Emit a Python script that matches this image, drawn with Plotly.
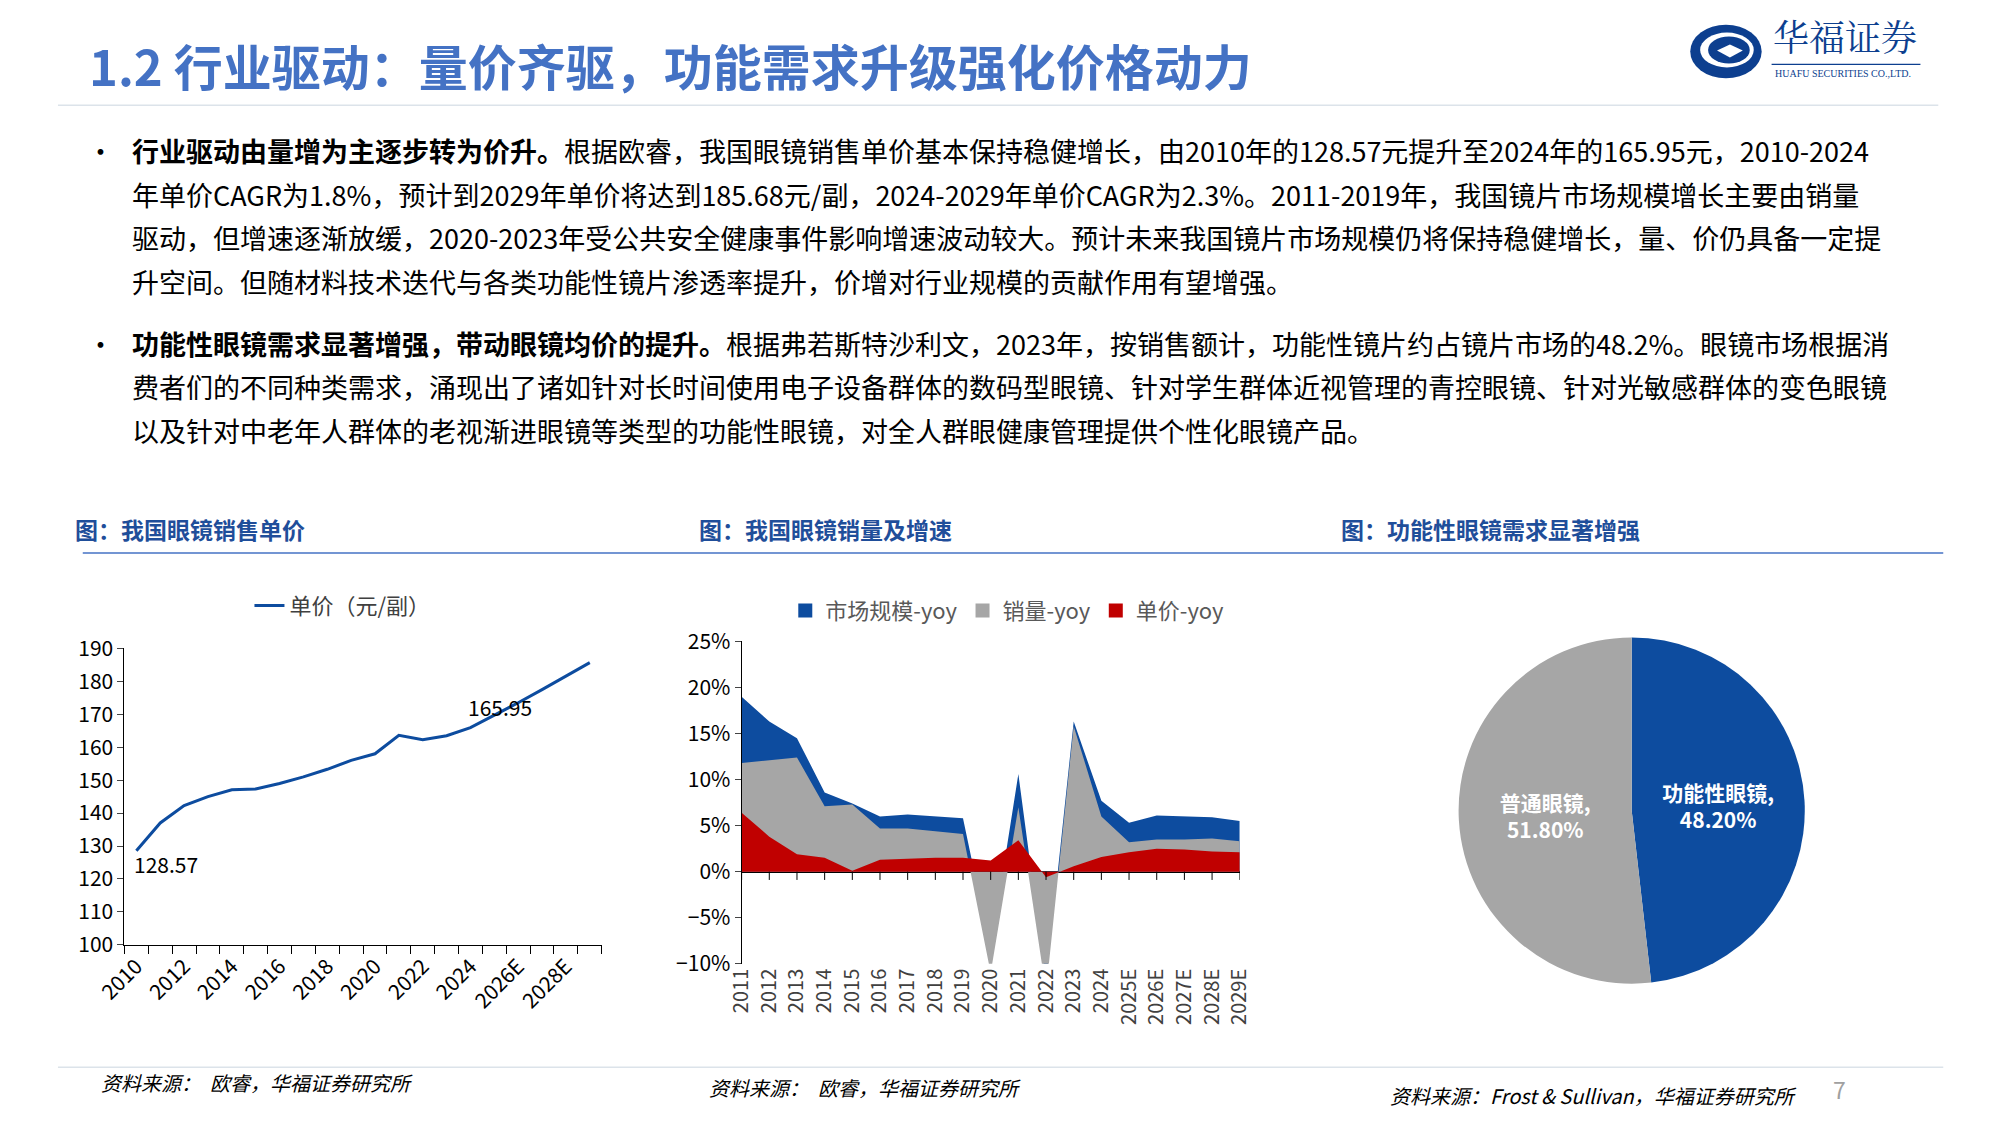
import plotly.graph_objects as go

# ---- data ----
price_years = list(range(2010, 2030))
price = [128.57, 137.0, 142.3, 145.0, 147.1, 147.3, 149.0, 151.0, 153.3, 156.0,
         158.0, 163.6, 162.3, 163.5, 165.95, 169.6, 173.5, 177.5, 181.5, 185.68]
price_ticks = [2010, 2012, 2014, 2016, 2018, 2020, 2022, 2024, 2026, 2028]
price_ticktext = ["2010", "2012", "2014", "2016", "2018", "2020", "2022", "2024", "2026E", "2028E"]

yoy_years = ["2011", "2012", "2013", "2014", "2015", "2016", "2017", "2018", "2019", "2020",
             "2021", "2022", "2023", "2024", "2025E", "2026E", "2027E", "2028E", "2029E"]
market_yoy = [19.0, 16.3, 14.5, 8.6, 7.4, 6.0, 6.2, 6.0, 5.8, -8.5,
              10.6, -12.0, 16.3, 7.7, 5.3, 6.1, 6.0, 5.9, 5.5]
volume_yoy = [11.8, 12.1, 12.4, 7.1, 7.3, 4.7, 4.7, 4.4, 4.1, -11.0,
              7.0, -13.0, 15.8, 6.0, 3.2, 3.5, 3.5, 3.6, 3.3]
unit_yoy = [6.4, 3.8, 1.9, 1.5, 0.1, 1.3, 1.4, 1.5, 1.5, 1.2,
            3.4, -0.6, 0.6, 1.6, 2.1, 2.5, 2.4, 2.2, 2.1]

pie_labels = ["功能性眼镜", "普通眼镜"]
pie_values = [48.2, 51.8]

BLUE = "#0D4C9F"
GRAY = "#A6A6A6"
RED = "#C00000"
FONT = "Noto Sans CJK SC"
W, H = 2000, 1125


def px(x):
    # reference pixel -> paper fraction (calibrated against the rendered page)
    return ((x * 0.78 - 28) / 0.7625) / W


def py(y):
    return 1 - ((y * 0.78 - 19) / 0.752) / H


def fs(s):
    return round(s * 1.03)


fig = go.Figure()

# chart 1: unit price line
fig.add_trace(go.Scatter(
    x=price_years, y=price, mode="lines", name="单价（元/副）",
    line=dict(color=BLUE, width=3), xaxis="x", yaxis="y", legend="legend",
))

# chart 2: overlapping yoy areas
for name, vals, col in [("市场规模-yoy", market_yoy, BLUE),
                        ("销量-yoy", volume_yoy, GRAY),
                        ("单价-yoy", unit_yoy, RED)]:
    fig.add_trace(go.Scatter(
        x=list(range(len(yoy_years))), y=vals, mode="lines", name=name,
        line=dict(width=0, color=col), fill="tozeroy", fillcolor=col,
        xaxis="x2", yaxis="y2", showlegend=False,
    ))
    # square legend key
    fig.add_trace(go.Scatter(
        x=[None], y=[None], mode="markers", name=name,
        marker=dict(symbol="square", size=14, color=col),
        xaxis="x2", yaxis="y2", legend="legend2",
    ))

# chart 3: pie
fig.add_trace(go.Pie(
    labels=pie_labels, values=pie_values, sort=False, direction="clockwise",
    marker=dict(colors=[BLUE, GRAY]), texttemplate="<b>%{label},<br>%{percent:.2%}</b>",
    textposition="inside", insidetextfont=dict(color="white", size=fs(20), family=FONT),
    showlegend=False, domain=dict(x=[px(1465), px(1817)], y=[py(988), py(640)]),
))

axfont = dict(size=fs(20), color="black", family=FONT)
fig.update_layout(
    paper_bgcolor="white", plot_bgcolor="white",
    margin=dict(l=0, r=0, t=0, b=0), font=dict(family=FONT),
    xaxis=dict(domain=[px(122), px(603)], range=[2009.5, 2029.5],
               tickvals=price_ticks, ticktext=price_ticktext, tickangle=-45,
               ticks="", showgrid=False, showline=True, linecolor="black",
               tickfont=axfont,
               minor=dict(tickvals=[v + 0.5 for v in range(2009, 2030)],
                          ticks="outside", ticklen=8, tickcolor="black")),
    yaxis=dict(domain=[py(949), py(651)], range=[100, 190], dtick=10,
               showgrid=False, showline=True, linecolor="black",
               ticks="outside", ticklen=6, tickfont=axfont),
    xaxis2=dict(domain=[px(744), px(1246)], range=[0, len(yoy_years) - 1],
                tickvals=list(range(len(yoy_years))), ticktext=yoy_years, tickangle=-90,
                ticks="", showgrid=False, showline=False, zeroline=False,
                anchor="y2", tickfont=dict(size=fs(19), color="#404040", family=FONT)),
    yaxis2=dict(domain=[py(968), py(644)], range=[-10, 25], dtick=5, ticksuffix="%",
                showgrid=False, showline=True, linecolor="black", zeroline=True,
                zerolinecolor="black", zerolinewidth=1.5, ticks="outside", ticklen=6,
                anchor="x2", tickfont=axfont),
    legend=dict(x=px(248), y=py(608), xanchor="left", yanchor="middle",
                orientation="h", font=dict(size=fs(21), color="#404040", family=FONT)),
    legend2=dict(x=px(788), y=py(613), xanchor="left", yanchor="middle",
                 orientation="h", font=dict(size=fs(21), color="#595959", family=FONT),
                 itemwidth=30, tracegroupgap=0),
)

# x2 tick marks at each category along the zero line
for i in range(len(yoy_years)):
    fig.add_shape(type="line", xref="x2", yref="y2", x0=i, x1=i, y0=0, y1=-0.9,
                  line=dict(color="black", width=1))

ann = []
ann.append(dict(x=2010, y=128.57, xref="x", yref="y", text="128.57", showarrow=False,
                xanchor="left", yanchor="top", xshift=-4, yshift=4,
                font=dict(size=fs(20), color="black", family=FONT)))
ann.append(dict(x=2024, y=165.95, xref="x", yref="y", text="165.95", showarrow=False,
                xanchor="center", yanchor="bottom", xshift=30, yshift=4,
                font=dict(size=fs(20), color="black", family=FONT)))

# title
ann.append(dict(x=px(84), y=py(64), xref="paper", yref="paper", xanchor="left", yanchor="middle",
                text="<b>1.2 行业驱动：量价齐驱，功能需求升级强化价格动力</b>", showarrow=False,
                font=dict(size=fs(48), color="#4472C4", family=FONT)))

# body text
lines1 = [
    "<b>行业驱动由量增为主逐步转为价升。</b>根据欧睿，我国眼镜销售单价基本保持稳健增长，由2010年的128.57元提升至2024年的165.95元，2010-2024",
    "年单价CAGR为1.8%，预计到2029年单价将达到185.68元/副，2024-2029年单价CAGR为2.3%。2011-2019年，我国镜片市场规模增长主要由销量",
    "驱动，但增速逐渐放缓，2020-2023年受公共安全健康事件影响增速波动较大。预计未来我国镜片市场规模仍将保持稳健增长，量、价仍具备一定提",
    "升空间。但随材料技术迭代与各类功能性镜片渗透率提升，价增对行业规模的贡献作用有望增强。",
]
lines2 = [
    "<b>功能性眼镜需求显著增强，带动眼镜均价的提升。</b>根据弗若斯特沙利文，2023年，按销售额计，功能性镜片约占镜片市场的48.2%。眼镜市场根据消",
    "费者们的不同种类需求，涌现出了诸如针对长时间使用电子设备群体的数码型眼镜、针对学生群体近视管理的青控眼镜、针对光敏感群体的变色眼镜",
    "以及针对中老年人群体的老视渐进眼镜等类型的功能性眼镜，对全人群眼健康管理提供个性化眼镜产品。",
]
for ys, lines in [([151, 195, 238, 282], lines1), ([345, 388, 432], lines2)]:
    ann.append(dict(x=px(82), y=py(ys[0]), xref="paper", yref="paper", xanchor="left",
                    yanchor="middle", text="•", showarrow=False,
                    font=dict(size=fs(26), color="black", family=FONT)))
    for yv, t in zip(ys, lines):
        ann.append(dict(x=px(128), y=py(yv), xref="paper", yref="paper", xanchor="left",
                        yanchor="middle", text=t, showarrow=False,
                        font=dict(size=27, color="black", family=FONT)))

# chart subtitles
for xv, t in [(70, "图：我国眼镜销售单价"), (699, "图：我国眼镜销量及增速"), (1346, "图：功能性眼镜需求显著增强")]:
    ann.append(dict(x=px(xv), y=py(531), xref="paper", yref="paper", xanchor="left",
                    yanchor="middle", text="<b>" + t + "</b>", showarrow=False,
                    font=dict(size=fs(22), color="#1F4E9A", family=FONT)))

# sources
for xv, yv, t in [(96, 1087, "资料来源：  欧睿，华福证券研究所"),
                  (709, 1092, "资料来源：  欧睿，华福证券研究所"),
                  (1395, 1100, "资料来源：Frost &amp; Sullivan，华福证券研究所")]:
    ann.append(dict(x=px(xv), y=py(yv), xref="paper", yref="paper", xanchor="left",
                    yanchor="middle", text="<i>" + t + "</i>", showarrow=False,
                    font=dict(size=fs(19), color="black", family=FONT)))
ann.append(dict(x=px(1850), y=py(1094), xref="paper", yref="paper", xanchor="center",
                yanchor="middle", text="7", showarrow=False,
                font=dict(size=fs(22), color="#A0A0A0", family=FONT)))

# logo text
LX = 50
ann.append(dict(x=px(1732 + LX), y=py(62), xref="paper", yref="paper", xanchor="left",
                yanchor="bottom", text="华福证券", showarrow=False, borderpad=0,
                font=dict(size=36, color="#0D3F8F", family="Noto Serif CJK SC, " + FONT)))
ann.append(dict(x=px(1734 + LX), y=py(67), xref="paper", yref="paper", xanchor="left",
                yanchor="top", text="HUAFU SECURITIES CO.,LTD.", showarrow=False, borderpad=0,
                font=dict(size=10, color="#0D3F8F", family="Liberation Serif")))
fig.update_layout(annotations=ann)

shapes = [
    # header line, subtitle line, footer line
    dict(type="line", x0=px(55), x1=px(1950), y0=py(105), y1=py(105), line=dict(color="#DCE3EA", width=1.5)),
    dict(type="line", x0=px(80), x1=px(1955), y0=py(555), y1=py(555), line=dict(color="#4472C4", width=1.5)),
    dict(type="line", x0=px(55), x1=px(1955), y0=py(1072), y1=py(1072), line=dict(color="#DCE3EA", width=1.5)),
    dict(type="line", x0=px(1732 + LX), x1=px(1932), y0=py(64), y1=py(64), line=dict(color="#0D3F8F", width=1.2)),
    # logo swirl
    dict(type="circle", x0=px(1650 + LX), x1=px(1722 + LX), y0=py(78), y1=py(24), fillcolor="#0D3F8F", line=dict(width=0)),
    dict(type="circle", x0=px(1660 + LX), x1=px(1714 + LX), y0=py(67), y1=py(32), fillcolor="white", line=dict(width=0)),
    dict(type="circle", x0=px(1668 + LX), x1=px(1710 + LX), y0=py(63), y1=py(36), fillcolor="#0D3F8F", line=dict(width=0)),
    dict(type="path", path="M %f %f L %f %f L %f %f L %f %f Z" % (
        px(1677 + LX), py(50), px(1690 + LX), py(44), px(1703 + LX), py(50), px(1690 + LX), py(57)),
        fillcolor="white", line=dict(width=0)),
]
for s in shapes:
    s.setdefault("xref", "paper")
    s.setdefault("yref", "paper")
    fig.add_shape(**s)

fig.write_html("out.html")
